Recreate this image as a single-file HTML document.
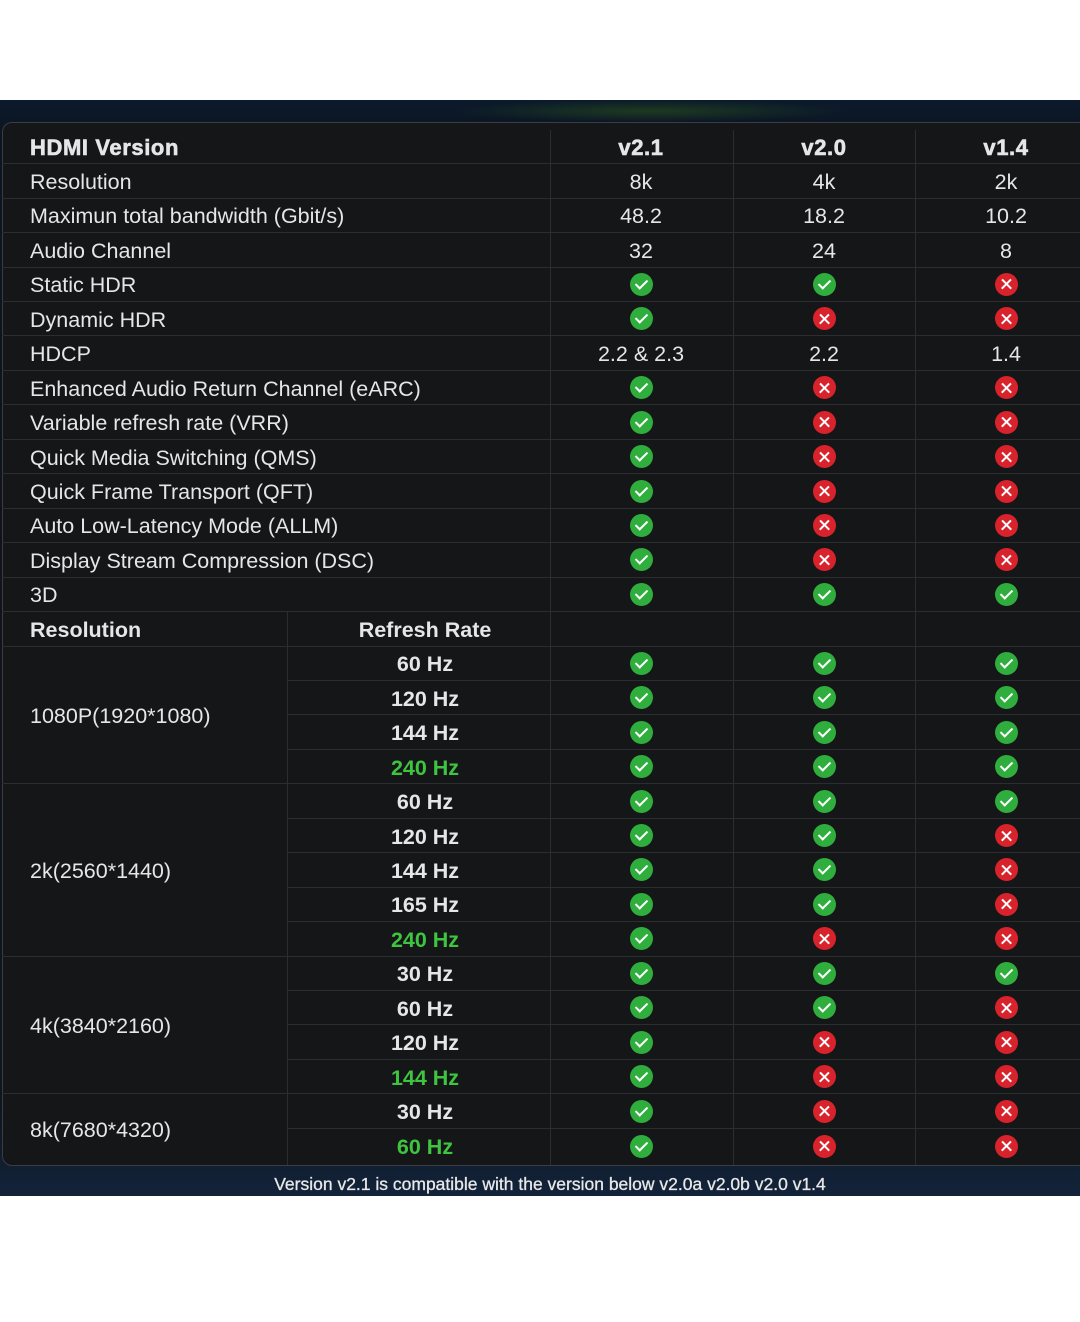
<!DOCTYPE html>
<html><head><meta charset="utf-8"><style>
*{margin:0;padding:0;box-sizing:border-box}
body{width:1080px;height:1322px;background:#fff;position:relative;overflow:hidden;font-family:"Liberation Sans",sans-serif;color:#e6e6e6}
#bg{position:absolute;left:0;top:100px;width:1080px;height:1096px;background:linear-gradient(180deg,#0b1a2c 0%,#0c1522 3%,#10141a 50%,#0e1620 92%,#12233a 100%)}
#glow{position:absolute;left:450px;top:100px;width:400px;height:22px;background:radial-gradient(ellipse at center,#1d3a20 0%,rgba(20,40,30,0) 70%)}
#panel{position:absolute;left:2px;top:122px;width:1090px;height:1044px;background:#151618;border:1px solid #3a3d42;border-radius:10px 0 0 10px}
.r{position:absolute;height:34.45px;border-bottom:1px solid #2b2d31;display:flex;align-items:center;font-size:21.5px;padding-top:3px}
.l{position:absolute;left:28px}
.c{position:absolute;width:0;display:flex;justify-content:center;white-space:nowrap}
.c1{left:639px}.c2{left:822px}.c3{left:1004px}
.vl{position:absolute;width:1px;background:#2b2d31}
.b{font-weight:bold}
.h{font-weight:bold;font-size:22px;letter-spacing:0.6px;-webkit-text-stroke:0.6px #e6e6e6}
.g{color:#3fc43f;font-weight:bold}
.y,.n{display:inline-block;width:23px;height:23px;border-radius:50%;position:relative;flex:none;margin-top:-3px}
.y{background:#2fae3e}
.n{background:#d8232c}
.y:after{content:"";position:absolute;left:8px;top:4px;width:5px;height:10px;border:solid #fff;border-width:0 2.5px 2.5px 0;transform:rotate(45deg)}
.n:before,.n:after{content:"";position:absolute;left:5px;top:10.5px;width:13px;height:2.4px;background:#fff;transform:rotate(45deg)}
.n:after{transform:rotate(-45deg)}
.grp{position:absolute;left:2px;width:285px;border-bottom:1px solid #2b2d31;display:flex;align-items:center;padding-left:28px;font-size:21.5px;padding-top:3px}
#foot{position:absolute;top:1174px;left:0;width:1100px;text-align:center;font-size:17.5px;color:#e8e8e8;-webkit-text-stroke:0.3px #e8e8e8}
</style></head><body>
<div id="bg"></div><div id="glow"></div><div id="panel"></div>
<div class="vl" style="left:550px;top:130px;height:1035px"></div>
<div class="vl" style="left:733px;top:130px;height:1035px"></div>
<div class="vl" style="left:915px;top:130px;height:1035px"></div>
<div class="vl" style="left:287px;top:612px;height:553px"></div>

<div class="r h" style="top:129.8px;left:2px;width:1078px"><span class="l">HDMI Version</span><span class="c c1">v2.1</span><span class="c c2">v2.0</span><span class="c c3">v1.4</span></div>
<div class="r" style="top:164.25px;left:2px;width:1078px"><span class="l">Resolution</span><span class="c c1">8k</span><span class="c c2">4k</span><span class="c c3">2k</span></div>
<div class="r" style="top:198.7px;left:2px;width:1078px"><span class="l">Maximun total bandwidth (Gbit/s)</span><span class="c c1">48.2</span><span class="c c2">18.2</span><span class="c c3">10.2</span></div>
<div class="r" style="top:233.15px;left:2px;width:1078px"><span class="l">Audio Channel</span><span class="c c1">32</span><span class="c c2">24</span><span class="c c3">8</span></div>
<div class="r" style="top:267.6px;left:2px;width:1078px"><span class="l">Static HDR</span><span class="c c1"><i class="y"></i></span><span class="c c2"><i class="y"></i></span><span class="c c3"><i class="n"></i></span></div>
<div class="r" style="top:302.05px;left:2px;width:1078px"><span class="l">Dynamic HDR</span><span class="c c1"><i class="y"></i></span><span class="c c2"><i class="n"></i></span><span class="c c3"><i class="n"></i></span></div>
<div class="r" style="top:336.5px;left:2px;width:1078px"><span class="l">HDCP</span><span class="c c1">2.2 &amp; 2.3</span><span class="c c2">2.2</span><span class="c c3">1.4</span></div>
<div class="r" style="top:370.95px;left:2px;width:1078px"><span class="l">Enhanced Audio Return Channel (eARC)</span><span class="c c1"><i class="y"></i></span><span class="c c2"><i class="n"></i></span><span class="c c3"><i class="n"></i></span></div>
<div class="r" style="top:405.4px;left:2px;width:1078px"><span class="l">Variable refresh rate (VRR)</span><span class="c c1"><i class="y"></i></span><span class="c c2"><i class="n"></i></span><span class="c c3"><i class="n"></i></span></div>
<div class="r" style="top:439.85px;left:2px;width:1078px"><span class="l">Quick Media Switching (QMS)</span><span class="c c1"><i class="y"></i></span><span class="c c2"><i class="n"></i></span><span class="c c3"><i class="n"></i></span></div>
<div class="r" style="top:474.3px;left:2px;width:1078px"><span class="l">Quick Frame Transport (QFT)</span><span class="c c1"><i class="y"></i></span><span class="c c2"><i class="n"></i></span><span class="c c3"><i class="n"></i></span></div>
<div class="r" style="top:508.75px;left:2px;width:1078px"><span class="l">Auto Low-Latency Mode (ALLM)</span><span class="c c1"><i class="y"></i></span><span class="c c2"><i class="n"></i></span><span class="c c3"><i class="n"></i></span></div>
<div class="r" style="top:543.2px;left:2px;width:1078px"><span class="l">Display Stream Compression (DSC)</span><span class="c c1"><i class="y"></i></span><span class="c c2"><i class="n"></i></span><span class="c c3"><i class="n"></i></span></div>
<div class="r" style="top:577.65px;left:2px;width:1078px"><span class="l">3D</span><span class="c c1"><i class="y"></i></span><span class="c c2"><i class="y"></i></span><span class="c c3"><i class="y"></i></span></div>
<div class="r b" style="top:612.1px;left:2px;width:1078px"><span class="l">Resolution</span><span class="c" style="left:423px">Refresh Rate</span></div>

<div class="grp" style="top:646.55px;height:137.8px">1080P(1920*1080)</div>
<div class="grp" style="top:784.35px;height:172.25px">2k(2560*1440)</div>
<div class="grp" style="top:956.6px;height:137.8px">4k(3840*2160)</div>
<div class="grp" style="top:1094.4px;height:70px;border-bottom:none">8k(7680*4320)</div>

<div class="r" style="top:646.55px;left:287px;width:793px"><span class="c b" style="left:138px">60 Hz</span><span class="c" style="left:354px"><i class="y"></i></span><span class="c" style="left:537px"><i class="y"></i></span><span class="c" style="left:719px"><i class="y"></i></span></div>
<div class="r" style="top:681px;left:287px;width:793px"><span class="c b" style="left:138px">120 Hz</span><span class="c" style="left:354px"><i class="y"></i></span><span class="c" style="left:537px"><i class="y"></i></span><span class="c" style="left:719px"><i class="y"></i></span></div>
<div class="r" style="top:715.45px;left:287px;width:793px"><span class="c b" style="left:138px">144 Hz</span><span class="c" style="left:354px"><i class="y"></i></span><span class="c" style="left:537px"><i class="y"></i></span><span class="c" style="left:719px"><i class="y"></i></span></div>
<div class="r" style="top:749.9px;left:287px;width:793px"><span class="c g" style="left:138px">240 Hz</span><span class="c" style="left:354px"><i class="y"></i></span><span class="c" style="left:537px"><i class="y"></i></span><span class="c" style="left:719px"><i class="y"></i></span></div>
<div class="r" style="top:784.35px;left:287px;width:793px"><span class="c b" style="left:138px">60 Hz</span><span class="c" style="left:354px"><i class="y"></i></span><span class="c" style="left:537px"><i class="y"></i></span><span class="c" style="left:719px"><i class="y"></i></span></div>
<div class="r" style="top:818.8px;left:287px;width:793px"><span class="c b" style="left:138px">120 Hz</span><span class="c" style="left:354px"><i class="y"></i></span><span class="c" style="left:537px"><i class="y"></i></span><span class="c" style="left:719px"><i class="n"></i></span></div>
<div class="r" style="top:853.25px;left:287px;width:793px"><span class="c b" style="left:138px">144 Hz</span><span class="c" style="left:354px"><i class="y"></i></span><span class="c" style="left:537px"><i class="y"></i></span><span class="c" style="left:719px"><i class="n"></i></span></div>
<div class="r" style="top:887.7px;left:287px;width:793px"><span class="c b" style="left:138px">165 Hz</span><span class="c" style="left:354px"><i class="y"></i></span><span class="c" style="left:537px"><i class="y"></i></span><span class="c" style="left:719px"><i class="n"></i></span></div>
<div class="r" style="top:922.15px;left:287px;width:793px"><span class="c g" style="left:138px">240 Hz</span><span class="c" style="left:354px"><i class="y"></i></span><span class="c" style="left:537px"><i class="n"></i></span><span class="c" style="left:719px"><i class="n"></i></span></div>
<div class="r" style="top:956.6px;left:287px;width:793px"><span class="c b" style="left:138px">30 Hz</span><span class="c" style="left:354px"><i class="y"></i></span><span class="c" style="left:537px"><i class="y"></i></span><span class="c" style="left:719px"><i class="y"></i></span></div>
<div class="r" style="top:991.05px;left:287px;width:793px"><span class="c b" style="left:138px">60 Hz</span><span class="c" style="left:354px"><i class="y"></i></span><span class="c" style="left:537px"><i class="y"></i></span><span class="c" style="left:719px"><i class="n"></i></span></div>
<div class="r" style="top:1025.5px;left:287px;width:793px"><span class="c b" style="left:138px">120 Hz</span><span class="c" style="left:354px"><i class="y"></i></span><span class="c" style="left:537px"><i class="n"></i></span><span class="c" style="left:719px"><i class="n"></i></span></div>
<div class="r" style="top:1059.95px;left:287px;width:793px"><span class="c g" style="left:138px">144 Hz</span><span class="c" style="left:354px"><i class="y"></i></span><span class="c" style="left:537px"><i class="n"></i></span><span class="c" style="left:719px"><i class="n"></i></span></div>
<div class="r" style="top:1094.4px;left:287px;width:793px"><span class="c b" style="left:138px">30 Hz</span><span class="c" style="left:354px"><i class="y"></i></span><span class="c" style="left:537px"><i class="n"></i></span><span class="c" style="left:719px"><i class="n"></i></span></div>
<div class="r" style="top:1128.85px;left:287px;width:793px;border-bottom:none"><span class="c g" style="left:138px">60 Hz</span><span class="c" style="left:354px"><i class="y"></i></span><span class="c" style="left:537px"><i class="n"></i></span><span class="c" style="left:719px"><i class="n"></i></span></div>

<div id="foot">Version v2.1 is compatible with the version below v2.0a v2.0b v2.0 v1.4</div>
</body></html>
